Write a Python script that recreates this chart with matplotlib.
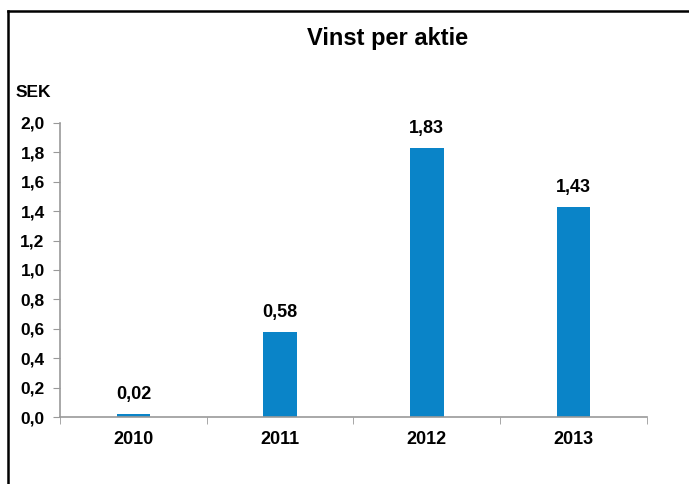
import numpy as np
import matplotlib.pyplot as plt
from matplotlib.lines import Line2D

years = ['2010', '2011', '2012', '2013']
eps = [0.02, 0.58, 1.83, 1.43]
labels = ['0,02', '0,58', '1,83', '1,43']
yticks = [0.0, 0.2, 0.4, 0.6, 0.8, 1.0, 1.2, 1.4, 1.6, 1.8, 2.0]

plt.rcParams['font.family'] = ['Liberation Sans', 'DejaVu Sans']
plt.rcParams['font.weight'] = 'bold'

fig = plt.figure(figsize=(6.89, 4.84), dpi=100)
ax = fig.add_axes([0.0871, 0.1384, 0.8519, 0.6076])

x = np.arange(len(years))
ax.bar(x, eps, width=0.23, color='#0A84C8')
for xi, v, lab in zip(x, eps, labels):
    ax.annotate(lab, (xi, v), xytext=(0, 8), textcoords='offset points',
                ha='center', va='bottom', fontsize=13, fontweight='bold')

ax.set_xlim(-0.5, 3.5)
ax.set_ylim(0, 2.0)
ax.set_yticks(yticks)
ax.set_yticklabels([f'{t:.1f}'.replace('.', ',') for t in yticks],
                   fontsize=12.5, fontweight='bold')
ax.set_xticks(x)
ax.set_xticklabels(years, fontsize=13, fontweight='bold')
ax.set_xticks(np.arange(-0.5, 4.0, 1.0), minor=True)
ax.tick_params(axis='x', which='major', length=0, pad=10)
ax.tick_params(axis='x', which='minor', length=5, color='#999999', direction='out')
ax.tick_params(axis='y', length=5, color='#999999', direction='out', pad=6)

for s in ['top', 'right']:
    ax.spines[s].set_visible(False)
for s in ['left', 'bottom']:
    ax.spines[s].set_color('#999999')
    ax.spines[s].set_linewidth(1.2)

fig.text(0.563, 0.921, 'Vinst per aktie', ha='center', va='center',
         fontsize=17, fontweight='bold')
fig.text(0.023, 0.808, 'SEK', ha='left', va='center', fontsize=12.5, fontweight='bold')

# frame lines (left and top)
fig.add_artist(Line2D([0.0116, 0.0116], [0.0, 0.977], transform=fig.transFigure,
                      color='black', linewidth=1.8))
fig.add_artist(Line2D([0.0116, 1.0], [0.977, 0.977], transform=fig.transFigure,
                      color='black', linewidth=1.8))

fig.savefig('out.png', dpi=100)
